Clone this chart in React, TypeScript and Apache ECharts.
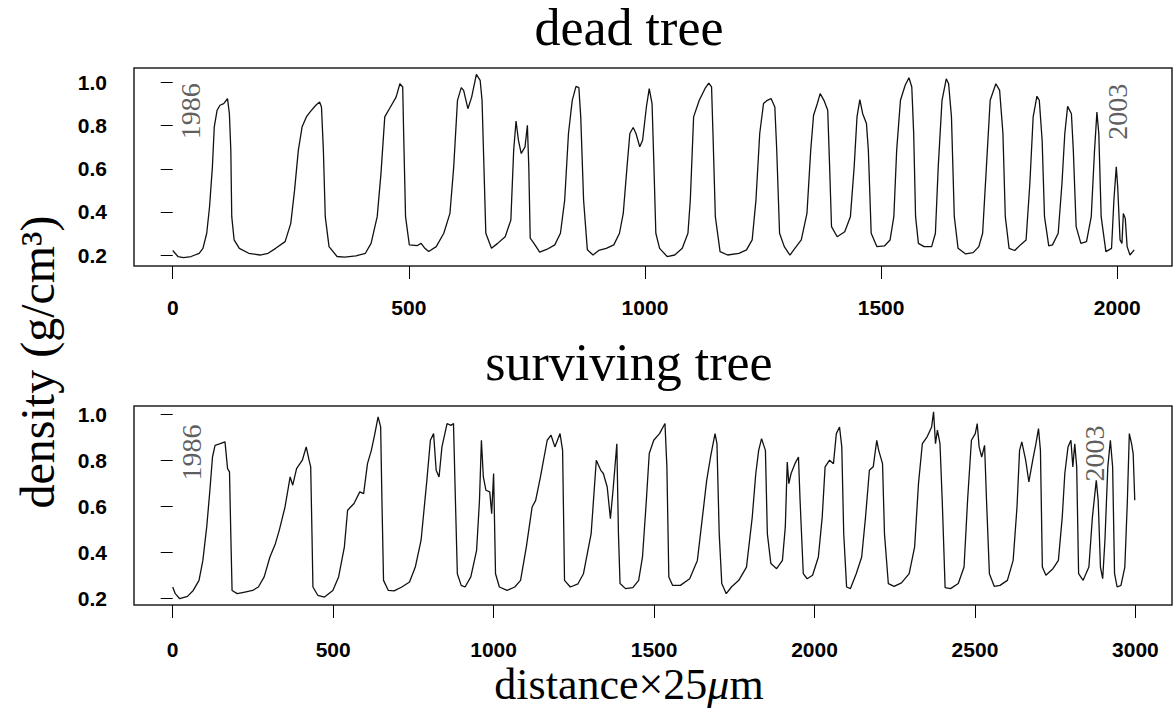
import React, { useEffect, useRef } from "react";
import * as echarts from "echarts";

// ---- data ----
const yTicks = [0.2, 0.4, 0.6, 0.8, 1.0];
const deadTicks = [0, 500, 1000, 1500, 2000];
const survTicks = [0, 500, 1000, 1500, 2000, 2500, 3000];

const deadDistance = [
  0, 11, 23, 39, 56, 64, 72, 78, 84, 88, 94, 100, 108, 116, 120, 123, 125, 130, 141, 161, 185, 202, 218, 238, 250, 258, 266, 274, 283, 291, 303, 311, 315, 319, 323, 331, 348, 364, 388, 408, 420, 433, 441, 449, 461, 473, 481, 487, 489, 493, 501, 518, 526, 534, 542, 558, 574, 587, 595, 603, 611, 616, 625, 633, 643, 651, 655, 659, 663, 675, 688, 704, 716, 722, 727, 732, 738, 746, 751, 754, 757, 765, 777, 793, 809, 821, 830, 838, 846, 854, 860, 864, 870, 878, 890, 902, 918, 934, 946, 954, 962, 968, 975, 981, 989, 995, 1003, 1009, 1015, 1019, 1023, 1031, 1047, 1063, 1079, 1091, 1096, 1103, 1115, 1127, 1135, 1141, 1144, 1149, 1159, 1175, 1199, 1215, 1227, 1235, 1243, 1251, 1259, 1267, 1275, 1279, 1285, 1295, 1307, 1315, 1331, 1343, 1351, 1357, 1365, 1371, 1379, 1387, 1391, 1395, 1407, 1423, 1435, 1443, 1449, 1455, 1461, 1469, 1473, 1479, 1491, 1507, 1519, 1527, 1533, 1541, 1551, 1559, 1565, 1569, 1573, 1579, 1591, 1607, 1615, 1621, 1629, 1638, 1643, 1649, 1655, 1663, 1679, 1695, 1707, 1715, 1723, 1731, 1743, 1751, 1758, 1763, 1771, 1783, 1795, 1807, 1815, 1822, 1830, 1835, 1841, 1846, 1855, 1863, 1875, 1883, 1889, 1895, 1903, 1907, 1913, 1923, 1935, 1945, 1952, 1957, 1961, 1966, 1976, 1988, 1993, 1998, 2001, 2006, 2010, 2013, 2017, 2021, 2027, 2036,
];
const deadDensity = [
  0.221, 0.193, 0.188, 0.193, 0.208, 0.231, 0.301, 0.424, 0.609, 0.795, 0.872, 0.895, 0.903, 0.926, 0.856, 0.687, 0.378, 0.27, 0.231, 0.208, 0.2, 0.208, 0.231, 0.262, 0.347, 0.501, 0.687, 0.795, 0.841, 0.864, 0.895, 0.91, 0.887, 0.687, 0.378, 0.239, 0.193, 0.19, 0.196, 0.208, 0.254, 0.378, 0.579, 0.841, 0.887, 0.933, 0.995, 0.98, 0.764, 0.378, 0.247, 0.244, 0.254, 0.231, 0.216, 0.239, 0.301, 0.393, 0.609, 0.918, 0.977, 0.964, 0.879, 0.933, 1.038, 1.011, 0.918, 0.609, 0.301, 0.231, 0.254, 0.285, 0.362, 0.687, 0.822, 0.733, 0.671, 0.702, 0.802, 0.609, 0.278, 0.254, 0.213, 0.227, 0.247, 0.301, 0.455, 0.764, 0.918, 0.983, 0.977, 0.841, 0.455, 0.224, 0.2, 0.221, 0.231, 0.247, 0.301, 0.393, 0.609, 0.764, 0.792, 0.764, 0.702, 0.733, 0.887, 0.972, 0.903, 0.609, 0.301, 0.231, 0.193, 0.2, 0.231, 0.301, 0.455, 0.841, 0.918, 0.972, 0.998, 0.98, 0.764, 0.378, 0.216, 0.2, 0.208, 0.224, 0.27, 0.455, 0.764, 0.903, 0.918, 0.926, 0.887, 0.687, 0.301, 0.239, 0.2, 0.224, 0.27, 0.393, 0.687, 0.849, 0.903, 0.949, 0.918, 0.872, 0.609, 0.332, 0.285, 0.308, 0.378, 0.609, 0.841, 0.921, 0.856, 0.81, 0.687, 0.301, 0.239, 0.242, 0.27, 0.378, 0.687, 0.918, 0.988, 1.023, 0.98, 0.764, 0.378, 0.254, 0.239, 0.239, 0.301, 0.609, 0.918, 1.018, 0.995, 0.841, 0.378, 0.231, 0.205, 0.211, 0.239, 0.301, 0.609, 0.918, 0.995, 0.964, 0.764, 0.378, 0.231, 0.221, 0.247, 0.27, 0.532, 0.841, 0.937, 0.918, 0.733, 0.378, 0.242, 0.247, 0.301, 0.532, 0.764, 0.89, 0.856, 0.687, 0.332, 0.254, 0.262, 0.378, 0.687, 0.864, 0.764, 0.378, 0.216, 0.231, 0.455, 0.609, 0.517, 0.27, 0.254, 0.393, 0.37, 0.239, 0.2, 0.224,
];

const survDistance = [
  0, 8, 22, 46, 64, 82, 94, 106, 115, 124, 132, 148, 163, 171, 177, 181, 185, 201, 225, 249, 267, 285, 303, 320, 332, 350, 366, 374, 386, 404, 416, 425, 430, 434, 437, 452, 473, 499, 517, 535, 545, 565, 583, 595, 607, 619, 630, 640, 648, 652, 657, 672, 690, 714, 738, 756, 774, 792, 803, 813, 821, 830, 839, 855, 867, 875, 881, 887, 899, 911, 929, 947, 956, 962, 968, 976, 988, 994, 1000, 1006, 1018, 1042, 1066, 1084, 1102, 1120, 1131, 1146, 1167, 1179, 1191, 1207, 1215, 1221, 1239, 1263, 1280, 1304, 1320, 1334, 1342, 1354, 1364, 1373, 1384, 1389, 1394, 1411, 1434, 1452, 1464, 1476, 1485, 1499, 1517, 1534, 1540, 1546, 1558, 1582, 1611, 1635, 1652, 1664, 1676, 1690, 1696, 1703, 1711, 1725, 1741, 1764, 1788, 1806, 1817, 1826, 1835, 1847, 1853, 1864, 1882, 1900, 1909, 1915, 1920, 1927, 1939, 1950, 1955, 1965, 1977, 1994, 2012, 2024, 2033, 2047, 2059, 2068, 2078, 2085, 2091, 2100, 2112, 2130, 2147, 2159, 2171, 2183, 2194, 2200, 2212, 2218, 2230, 2248, 2271, 2295, 2312, 2324, 2336, 2351, 2365, 2371, 2377, 2383, 2391, 2398, 2407, 2424, 2448, 2466, 2477, 2489, 2501, 2507, 2513, 2521, 2530, 2536, 2545, 2560, 2578, 2601, 2619, 2631, 2639, 2646, 2658, 2668, 2680, 2690, 2698, 2704, 2710, 2721, 2743, 2760, 2772, 2780, 2790, 2799, 2805, 2811, 2817, 2823, 2837, 2855, 2866, 2878, 2884, 2891, 2898, 2905, 2914, 2922, 2929, 2935, 2943, 2955, 2967, 2975, 2981, 2988, 2993, 2998,
];
const survDensity = [
  0.248, 0.219, 0.197, 0.207, 0.233, 0.277, 0.364, 0.51, 0.655, 0.815, 0.866, 0.873, 0.881, 0.764, 0.75, 0.481, 0.233, 0.219, 0.226, 0.233, 0.248, 0.292, 0.379, 0.437, 0.495, 0.597, 0.728, 0.692, 0.764, 0.801, 0.859, 0.801, 0.772, 0.481, 0.248, 0.212, 0.204, 0.233, 0.292, 0.423, 0.583, 0.612, 0.663, 0.655, 0.786, 0.844, 0.917, 0.99, 0.946, 0.626, 0.277, 0.233, 0.231, 0.248, 0.27, 0.335, 0.452, 0.713, 0.888, 0.917, 0.757, 0.728, 0.859, 0.961, 0.953, 0.961, 0.626, 0.306, 0.255, 0.248, 0.292, 0.408, 0.626, 0.888, 0.728, 0.67, 0.663, 0.568, 0.743, 0.306, 0.248, 0.233, 0.248, 0.277, 0.423, 0.597, 0.626, 0.728, 0.888, 0.91, 0.859, 0.917, 0.844, 0.277, 0.248, 0.262, 0.306, 0.481, 0.801, 0.757, 0.743, 0.684, 0.546, 0.684, 0.873, 0.481, 0.263, 0.241, 0.245, 0.277, 0.379, 0.626, 0.83, 0.888, 0.917, 0.961, 0.772, 0.292, 0.255, 0.255, 0.284, 0.364, 0.568, 0.713, 0.815, 0.917, 0.873, 0.481, 0.263, 0.219, 0.248, 0.277, 0.335, 0.553, 0.743, 0.844, 0.895, 0.844, 0.481, 0.35, 0.328, 0.364, 0.51, 0.793, 0.699, 0.743, 0.786, 0.815, 0.626, 0.306, 0.284, 0.299, 0.379, 0.553, 0.772, 0.801, 0.786, 0.917, 0.946, 0.859, 0.481, 0.248, 0.241, 0.306, 0.379, 0.553, 0.757, 0.772, 0.888, 0.844, 0.786, 0.481, 0.263, 0.251, 0.266, 0.306, 0.423, 0.699, 0.873, 0.903, 0.946, 1.012, 0.873, 0.932, 0.873, 0.626, 0.245, 0.241, 0.263, 0.335, 0.626, 0.888, 0.917, 0.961, 0.859, 0.815, 0.866, 0.626, 0.306, 0.251, 0.255, 0.277, 0.364, 0.597, 0.844, 0.881, 0.801, 0.706, 0.801, 0.873, 0.939, 0.844, 0.335, 0.299, 0.328, 0.364, 0.553, 0.743, 0.859, 0.888, 0.772, 0.873, 0.772, 0.306, 0.277, 0.335, 0.553, 0.713, 0.626, 0.335, 0.284, 0.452, 0.772, 0.888, 0.772, 0.306, 0.248, 0.255, 0.335, 0.626, 0.917, 0.873, 0.83, 0.626,
];

const deadYears = ["1986", "2003"];
const deadYearX = [37, 2001];
const deadYearY = [0.867, 0.865];
const survYears = ["1986", "2003"];
const survYearX = [59, 2872];
const survYearY = [0.835, 0.83];

const panelTitles = ["dead tree", "surviving tree"];
const yTitle = "density (g/cm³)";

const SERIF = "'Liberation Serif', 'Times New Roman', serif";
const SANS = "'Liberation Sans', Arial, sans-serif";

function xAxisCfg(grid: number, min: number, max: number, ticks: number[], margin: number) {
  return {
    type: "value",
    gridIndex: grid,
    min,
    max,
    splitLine: { show: false },
    axisLine: { show: false },
    axisTick: {
      show: true,
      inside: false,
      length: 13,
      customValues: ticks,
      lineStyle: { color: "#000", width: 1 },
    },
    axisLabel: {
      customValues: ticks,
      margin,
      fontFamily: SANS,
      fontWeight: "bold",
      fontSize: 21,
      color: "#000",
      formatter: (v: number) => String(Math.round(v)),
    },
  };
}

function yAxisCfg(grid: number, min: number, max: number) {
  return {
    type: "value",
    gridIndex: grid,
    min,
    max,
    splitLine: { show: false },
    axisLine: { show: false },
    axisTick: {
      show: true,
      inside: false,
      length: 12,
      customValues: yTicks,
      lineStyle: { color: "#000", width: 1 },
    },
    axisLabel: {
      customValues: yTicks,
      margin: 27,
      fontFamily: SANS,
      fontWeight: "bold",
      fontSize: 21,
      color: "#000",
      formatter: (v: number) => v.toFixed(1),
    },
  };
}

function yearSeries(axis: number, xs: number[], ys: number[], labels: string[]) {
  return {
    type: "scatter",
    xAxisIndex: axis,
    yAxisIndex: axis,
    symbolSize: 0,
    silent: true,
    data: xs.map((x, i) => [x, ys[i], labels[i]]),
    label: {
      show: true,
      position: "inside",
      rotate: 90,
      formatter: (p: any) => p.data[2],
      fontFamily: SERIF,
      fontSize: 28,
      color: "#333",
    },
  };
}

export default function App() {
  const ref = useRef<HTMLDivElement>(null);
  useEffect(() => {
    document.body.style.margin = "0";
    const chart = echarts.init(ref.current!, null, { renderer: "svg" });
    const option: any = {
      animation: false,
      backgroundColor: "#fff",
      grid: [
        { left: 134, top: 68, width: 1038, height: 198, show: true, borderColor: "#222", borderWidth: 1.5, backgroundColor: "transparent" },
        { left: 134, top: 406, width: 1038, height: 199, show: true, borderColor: "#222", borderWidth: 1.5, backgroundColor: "transparent" },
      ],
      xAxis: [xAxisCfg(0, -82, 2116, deadTicks, 31), xAxisCfg(1, -120.6, 3114, survTicks, 34)],
      yAxis: [yAxisCfg(0, 0.149, 1.068), yAxisCfg(1, 0.1695, 1.0374)],
      series: [
        {
          type: "line",
          xAxisIndex: 0,
          yAxisIndex: 0,
          showSymbol: false,
          silent: true,
          data: deadDistance.map((x, i) => [x, deadDensity[i]]),
          lineStyle: { color: "#111", width: 1.3 },
        },
        {
          type: "line",
          xAxisIndex: 1,
          yAxisIndex: 1,
          showSymbol: false,
          silent: true,
          data: survDistance.map((x, i) => [x, survDensity[i]]),
          lineStyle: { color: "#111", width: 1.3 },
        },
        yearSeries(0, deadYearX, deadYearY, deadYears),
        yearSeries(1, survYearX, survYearY, survYears),
      ],
      graphic: [
        {
          type: "text",
          x: 629,
          y: 27,
          style: { text: panelTitles[0], fontFamily: SERIF, fontSize: 52, fill: "#000", align: "center", verticalAlign: "middle" },
        },
        {
          type: "text",
          x: 629,
          y: 362,
          style: { text: panelTitles[1], fontFamily: SERIF, fontSize: 52, fill: "#000", align: "center", verticalAlign: "middle" },
        },
        {
          type: "text",
          x: 629,
          y: 684,
          style: {
            text: "{a|distance×25}{b|μ}{a|m}",
            align: "center",
            verticalAlign: "middle",
            rich: {
              a: { fontFamily: SERIF, fontSize: 44, fill: "#000" },
              b: { fontFamily: SERIF, fontSize: 44, fontStyle: "italic", fill: "#000" },
            },
          },
        },
        {
          type: "text",
          x: 37,
          y: 362,
          rotation: Math.PI / 2,
          style: { text: yTitle, fontFamily: SERIF, fontSize: 48, fill: "#000", align: "center", verticalAlign: "middle" },
        },
      ],
    };
    chart.setOption(option);
    return () => chart.dispose();
  }, []);
  return <div ref={ref} style={{ width: 1173, height: 717 }} />;
}
